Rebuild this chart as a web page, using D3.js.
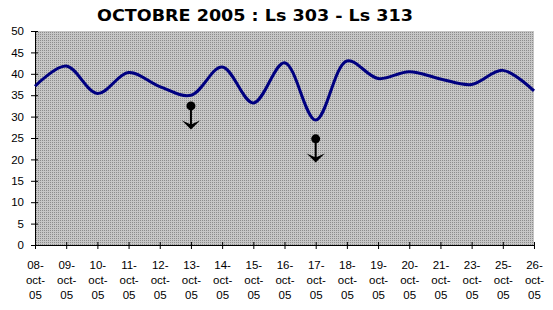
<!DOCTYPE html>
<html><head><meta charset="utf-8">
<script src="https://cdn.jsdelivr.net/npm/d3@7"></script>
<style>body{margin:0;background:#fff}svg{display:block}</style>
</head><body>
<svg id="chart" width="553" height="310"></svg>
<script>
const title = "OCTOBRE 2005 : Ls 303 - Ls 313";
const categories = ["08-oct-05","09-oct-05","10-oct-05","11-oct-05","12-oct-05","13-oct-05","14-oct-05","15-oct-05","16-oct-05","17-oct-05","18-oct-05","19-oct-05","20-oct-05","21-oct-05","23-oct-05","25-oct-05","26-oct-05"];
const values = [37.1, 41.8, 35.4, 40.3, 37.0, 35.0, 41.6, 33.2, 42.6, 29.2, 43.0, 38.9, 40.5, 38.8, 37.5, 40.8, 36.0];
const yTicks = [0,5,10,15,20,25,30,35,40,45,50];
const arrowCats = ["13-oct-05","17-oct-05"];
const arrowFrom = [32.5, 24.8];
const arrowTo = [27.0, 19.3];

const svg = d3.select("#chart");
const L = 35, R = 534, T = 31, B = 245;

const defs = svg.append("defs");
const pat = defs.append("pattern").attr("id","dots").attr("width",2).attr("height",2).attr("patternUnits","userSpaceOnUse");
pat.append("rect").attr("width",2).attr("height",2).attr("fill","#c6c6c6");
pat.append("rect").attr("width",1).attr("height",1).attr("fill","#8c8c8c");

const x = d3.scalePoint().domain(categories).range([L, R]);
const y = d3.scaleLinear().domain([0, 50]).range([B, T]);

svg.append("rect").attr("x",L).attr("y",T).attr("width",R-L).attr("height",B-T).attr("fill","url(#dots)");

const tt = svg.append("text").attr("x",255).attr("y",21).attr("text-anchor","middle")
  .attr("font-family","'DejaVu Sans', Verdana, sans-serif").attr("font-weight","bold").attr("font-size",16)
  .text(title);
const tw = tt.node().getComputedTextLength();
if (tw > 0) tt.attr("textLength", 316).attr("lengthAdjust","spacingAndGlyphs");

// Y axis
const yAxis = svg.append("g").attr("transform",`translate(${L},0)`)
  .call(d3.axisLeft(y).tickValues(yTicks).tickSize(4).tickSizeOuter(0).tickPadding(6));
yAxis.select(".domain").attr("stroke","#000");
yAxis.selectAll(".tick line").attr("x1",-4).attr("x2",3).attr("stroke","#000");
yAxis.selectAll("text").attr("font-family","Arial, 'Liberation Sans', sans-serif").attr("font-size",11.5).attr("fill","#000").attr("dx",-1);

// X axis
const xAxis = svg.append("g").attr("transform",`translate(0,${B})`)
  .call(d3.axisBottom(x).tickSize(4).tickSizeOuter(0).tickFormat(""));
xAxis.select(".domain").attr("stroke","#000");
xAxis.selectAll(".tick line").attr("y1",-3).attr("y2",4).attr("stroke","#000");
xAxis.selectAll(".tick").each(function(d){
  const parts = d.split("-");
  const t = d3.select(this).append("text").attr("fill","#000").attr("text-anchor","middle")
    .attr("font-family","Arial, 'Liberation Sans', sans-serif").attr("font-size",11.5);
  const lines = [parts[0]+"-", parts[1]+"-", parts[2]];
  lines.forEach((s,i)=>t.append("tspan").attr("x",0).attr("y",24+i*15).text(s));
});

// Line
const line = d3.line().x((d,i)=>x(categories[i])).y(d=>y(d)).curve(d3.curveCatmullRom.alpha(0.5));
svg.append("path").datum(values).attr("d",line).attr("fill","none").attr("stroke","#000080").attr("stroke-width",3).attr("stroke-linejoin","round");

// Arrows
arrowCats.forEach((c,i)=>{
  const cx = x(c), y0 = y(arrowFrom[i]), y1 = y(arrowTo[i]);
  const g = svg.append("g");
  g.append("line").attr("x1",cx).attr("x2",cx).attr("y1",y0).attr("y2",y1-3).attr("stroke","#000").attr("stroke-width",2);
  g.append("circle").attr("cx",cx).attr("cy",y0).attr("r",4.5).attr("fill","#000");
  g.append("path").attr("d",`M${cx-9},${y1-9} L${cx},${y1} L${cx+9},${y1-9} L${cx},${y1-5} Z`).attr("fill","#000");
});
</script>
</body></html>
